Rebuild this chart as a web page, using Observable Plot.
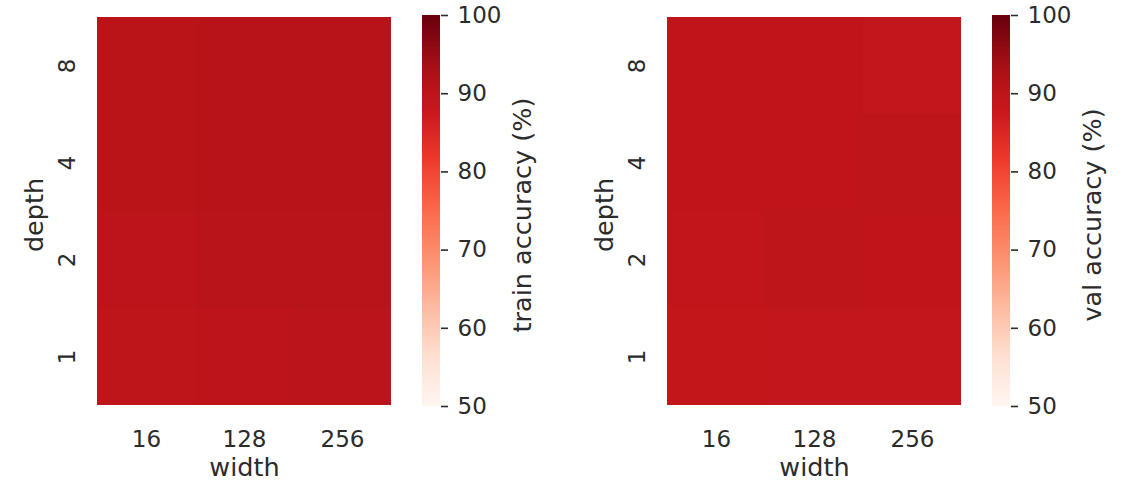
<!DOCTYPE html>
<html>
<head>
<meta charset="utf-8">
<script src="https://cdn.jsdelivr.net/npm/d3@7"></script>
<script src="https://cdn.jsdelivr.net/npm/@observablehq/plot@0.6"></script>
<style>
  body { margin: 0; background: white; }
  #chart { position: relative; width: 1126px; height: 490px; background: white; }
  #chart svg { position: absolute; top: 0; }
</style>
</head>
<body>
<div id="chart"></div>
<script>
// ---- data ----
const widths = ["16", "128", "256"];
const depths = ["8", "4", "2", "1"];
// rows follow depths (top to bottom), columns follow widths
const trainAcc = [
  [90.3, 90.8, 90.8],
  [90.3, 90.8, 90.8],
  [90.0, 90.6, 90.6],
  [89.6, 90.0, 90.1]
];
const valAcc = [
  [89.5, 89.5, 89.2],
  [89.5, 89.5, 89.6],
  [89.3, 89.8, 89.5],
  [89.0, 89.2, 89.2]
];
const colorDomain = [50, 100];
const colorTicks = [50, 60, 70, 80, 90, 100];
const panelLabels = ["train accuracy (%)", "val accuracy (%)"];

// ---- style ----
const REDS = ["#fff5f0", "#fee0d2", "#fcbba1", "#fc9272", "#fb6a4a", "#ef3b2c", "#cb181d", "#a50f15", "#67000d"];
const redsInterp = d3.piecewise(d3.interpolateRgb, REDS);
const FONT = "DejaVu Sans";
const TEXT = "#2b2b2b";
const TICK_FS = 23, LABEL_FS = 25.5;

const colorOpts = {type: "linear", domain: colorDomain, interpolate: redsInterp};

function heatmap(values) {
  const data = depths.flatMap((d, i) => widths.map((w, j) => ({depth: d, width: w, v: values[i][j]})));
  return Plot.plot({
    width: 400, height: 490,
    marginLeft: 97, marginRight: 9, marginTop: 15, marginBottom: 84,
    style: {fontFamily: FONT, color: TEXT, background: "transparent", overflow: "visible"},
    x: {type: "band", domain: widths, padding: 0},
    y: {type: "band", domain: depths, padding: 0, axis: null},
    color: colorOpts,
    marks: [
      Plot.cell(data, {x: "width", y: "depth", fill: "v", shapeRendering: "crispEdges"}),
      Plot.axisX({tickSize: 0, tickPadding: 24, fontSize: TICK_FS, label: null}),
      Plot.text(depths, {y: d => d, frameAnchor: "left", textAnchor: "middle", dx: -30, rotate: -90, text: d => d, fontSize: TICK_FS, fill: TEXT}),
      Plot.text(["width"], {frameAnchor: "bottom", textAnchor: "middle", dy: 69, text: d => d, fontSize: LABEL_FS, fill: TEXT}),
      Plot.text(["depth"], {frameAnchor: "left", textAnchor: "middle", dx: -63, dy: 4, rotate: -90, text: d => d, fontSize: LABEL_FS, fill: TEXT})
    ]
  });
}

function colorbar(label) {
  const step = 0.25;
  const stops = d3.range(colorDomain[0], colorDomain[1], step);
  return Plot.plot({
    width: 200, height: 490,
    marginLeft: 22, marginRight: 160, marginTop: 15, marginBottom: 84,
    style: {fontFamily: FONT, color: TEXT, background: "transparent", overflow: "visible"},
    y: {domain: colorDomain},
    color: colorOpts,
    marks: [
      Plot.rect(stops, {y1: d => d, y2: d => d + step, fill: d => d + step / 2, shapeRendering: "crispEdges"}),
      Plot.axisY({anchor: "right", ticks: colorTicks, tickSize: 7, tickPadding: 10, strokeWidth: 1.6, fontSize: TICK_FS, label: null}),
      Plot.text([label], {frameAnchor: "right", textAnchor: "middle", dx: 82, dy: 4, rotate: -90, text: d => d, fontSize: LABEL_FS, fill: TEXT})
    ]
  });
}

const chart = document.getElementById("chart");
const panels = [
  {values: trainAcc, label: panelLabels[0], left: 0},
  {values: valAcc, label: panelLabels[1], left: 570}
];
for (const p of panels) {
  const h = heatmap(p.values);
  h.style.left = p.left + "px";
  chart.appendChild(h);
  const c = colorbar(p.label);
  c.style.left = (p.left + 400) + "px";
  chart.appendChild(c);
}
</script>
</body>
</html>
